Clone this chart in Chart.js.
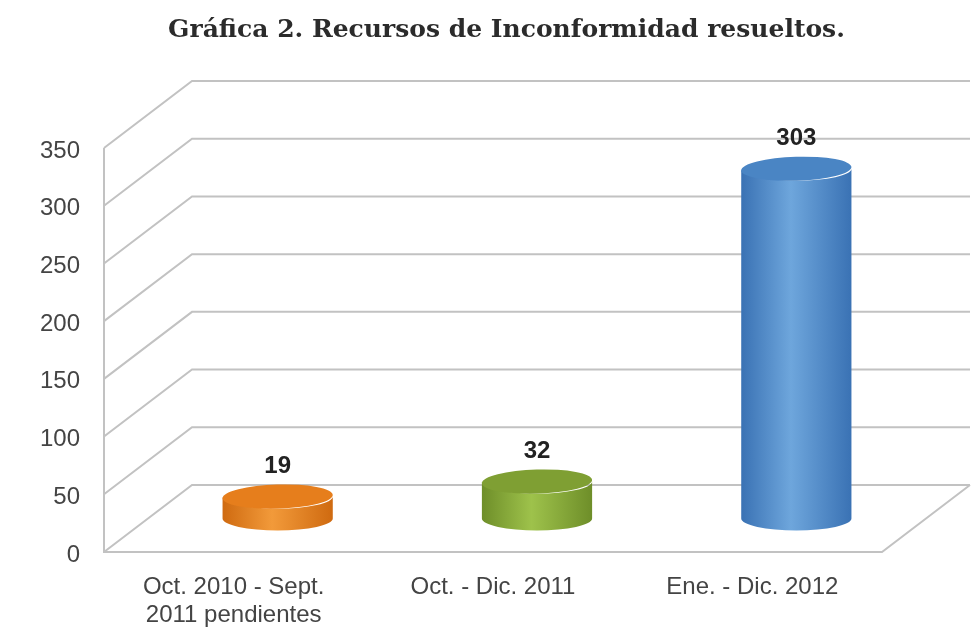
<!DOCTYPE html>
<html><head><meta charset="utf-8">
<script src="https://cdn.jsdelivr.net/npm/chart.js@4/dist/chart.umd.min.js"></script>
<style>html,body{margin:0;padding:0;background:#fff}#wrap{width:977px;height:635px}</style>
</head><body><div id="wrap"><canvas id="c" width="977" height="635"></canvas></div>
<script>
// ---- data ----
const titleText = 'Gráfica 2. Recursos de Inconformidad resueltos.';
const categories = [['Oct. 2010 - Sept.', '2011 pendientes'], 'Oct. - Dic. 2011', 'Ene. - Dic. 2012'];
const values = [19, 32, 303];
const yTicks = [0, 50, 100, 150, 200, 250, 300, 350];

// ---- styles ----
const topColors  = ['#E67E1C', '#7F9F33', '#4A85C4'];
const edgeColors = ['#CF6A10', '#6E8E29', '#3A72B4'];
const midColors  = ['#F29A3A', '#9EC24B', '#6EA6DC'];
const DEPTH_X = 88, DEPTH_Y = 67, RY = 12;
const gridColor = '#c2c2c2';

const grid3d = {
  id: 'grid3d',
  beforeDatasetsDraw(chart) {
    const {ctx, chartArea: a, scales: {y}} = chart;
    ctx.save();
    ctx.strokeStyle = gridColor;
    ctx.lineWidth = 2;
    yTicks.forEach(v => {
      const py = y.getPixelForValue(v);
      ctx.beginPath();
      ctx.moveTo(a.left, py);
      ctx.lineTo(a.left + DEPTH_X, py - DEPTH_Y);
      ctx.lineTo(a.right + DEPTH_X, py - DEPTH_Y);
      ctx.stroke();
    });
    const p0 = y.getPixelForValue(0);
    ctx.beginPath();
    ctx.moveTo(a.left, y.getPixelForValue(yTicks[yTicks.length - 1]));
    ctx.lineTo(a.left, p0);
    ctx.lineTo(a.right, p0);
    ctx.lineTo(a.right + DEPTH_X, p0 - DEPTH_Y);
    ctx.stroke();
    ctx.restore();
  }
};

const cylinders = {
  id: 'cylinders',
  afterDatasetsDraw(chart) {
    const {ctx} = chart;
    const meta = chart.getDatasetMeta(0);
    ctx.save();
    meta.data.forEach((el, i) => {
      const x = el.x + DEPTH_X / 2;
      const yTop = el.y - DEPTH_Y / 2;
      const yBase = el.base - DEPTH_Y / 2;
      const rx = el.width / 2;
      const g = ctx.createLinearGradient(x - rx, 0, x + rx, 0);
      g.addColorStop(0, edgeColors[i]);
      g.addColorStop(0.45, midColors[i]);
      g.addColorStop(1, edgeColors[i]);
      ctx.beginPath();
      ctx.moveTo(x - rx, yTop);
      ctx.lineTo(x - rx, yBase);
      ctx.ellipse(x, yBase, rx, RY, 0, Math.PI, 0, true);
      ctx.lineTo(x + rx, yTop);
      ctx.ellipse(x, yTop, rx, RY, 0, 0, Math.PI, false);
      ctx.closePath();
      ctx.fillStyle = g;
      ctx.fill();
      ctx.beginPath();
      ctx.ellipse(x, yTop, rx, RY, -0.03, 0, Math.PI * 2);
      ctx.fillStyle = topColors[i];
      ctx.fill();
      ctx.fillStyle = '#222';
      ctx.font = 'bold 24px "Liberation Sans", Arial, sans-serif';
      ctx.textAlign = 'center';
      ctx.textBaseline = 'middle';
      ctx.fillText(String(values[i]), x, yTop - RY - 18);
    });
    ctx.restore();
  }
};

new Chart(document.getElementById('c'), {
  type: 'bar',
  data: {
    labels: categories,
    datasets: [{
      data: values,
      backgroundColor: 'rgba(0,0,0,0)',
      borderWidth: 0,
      barPercentage: 0.425,
      categoryPercentage: 1
    }]
  },
  options: {
    responsive: false,
    animation: false,
    devicePixelRatio: 1,
    layout: {padding: {top: 0, right: 0, left: 36, bottom: 0}},
    plugins: {
      legend: {display: false},
      tooltip: {enabled: false},
      title: {
        display: true,
        text: titleText,
        color: '#2b2b2b',
        font: {family: '"DejaVu Serif", serif', size: 25, weight: 'bold', lineHeight: 1.2},
        padding: {top: 15, bottom: 103}
      }
    },
    scales: {
      x: {
        grid: {display: false, drawTicks: false},
        border: {display: false},
        ticks: {
          color: '#444',
          font: {family: '"Liberation Sans", Arial, sans-serif', size: 24, lineHeight: 1.15},
          padding: 22,
          maxRotation: 0,
          autoSkip: false
        },
        afterFit(s) { s.height = 83; }
      },
      y: {
        min: 0, max: 350,
        grid: {display: false, drawTicks: false},
        border: {display: false},
        ticks: {
          stepSize: 50,
          color: '#444',
          font: {family: '"Liberation Sans", Arial, sans-serif', size: 24},
          padding: 24,
          labelOffset: 3
        },
        afterFit(s) { s.width = 68; }
      },
      yRight: {
        position: 'right',
        display: true,
        grid: {display: false, drawTicks: false},
        border: {display: false},
        ticks: {display: false},
        afterFit(s) { s.width = 95; }
      }
    }
  },
  plugins: [grid3d, cylinders]
});
</script>
</body></html>
